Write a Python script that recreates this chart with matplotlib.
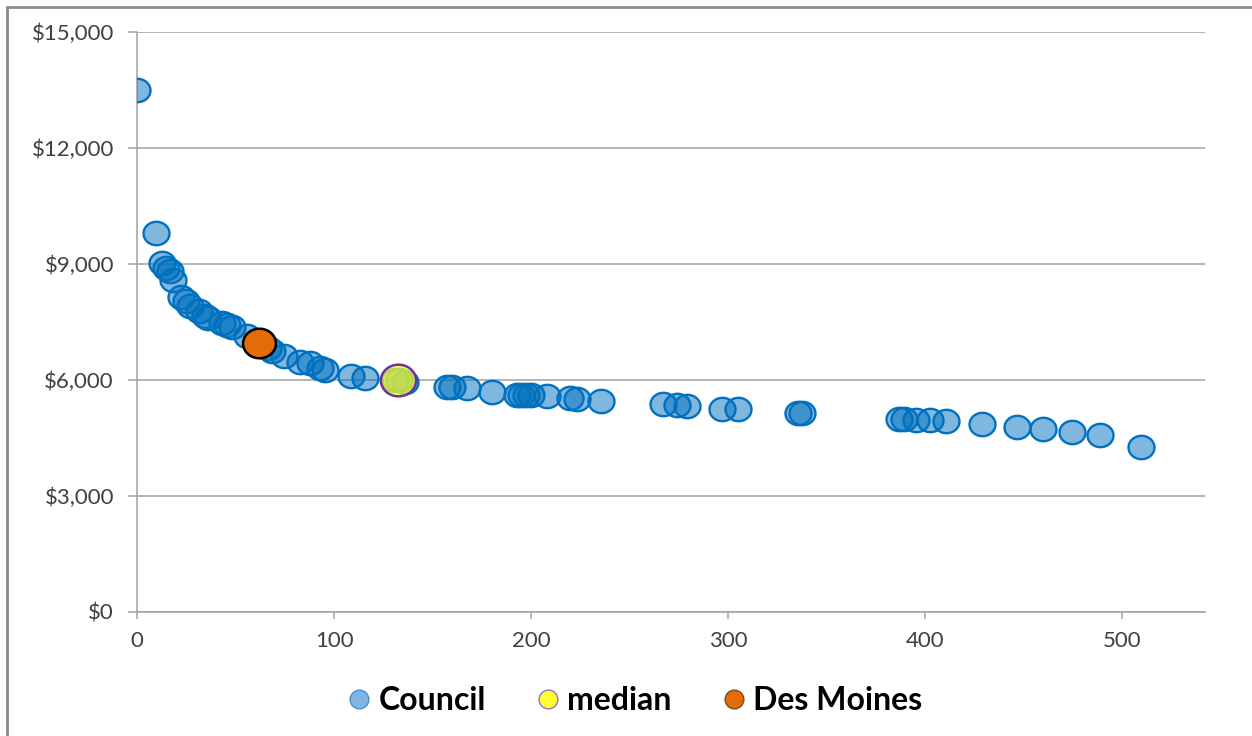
import numpy as np
import matplotlib.pyplot as plt
from matplotlib.patches import Rectangle
from matplotlib.path import Path
from matplotlib.ticker import FuncFormatter
from matplotlib.lines import Line2D

# cost per unit vs. size, Council members
council_x = [0, 9.6, 12.7, 14.7, 16.8, 18.3, 22.3, 24.9, 26.9, 31.5, 34.5, 36,
             43.1, 45.7, 48.2, 55.8, 66.5, 68.5, 74.6, 82.7, 87.8, 92.9, 95.4,
             108.6, 115.7, 131, 133, 136, 157.4, 159.9, 167.5, 180.2, 192.9,
             194.9, 197.5, 200, 208.1, 219.8, 223.4, 235.5, 267, 274, 279, 297,
             305, 335.5, 337.6, 386.8, 389.3, 395.4, 402.5, 410.7, 428.9, 446.7,
             459.9, 474.6, 488.8, 509.6]
council_y = [13500, 9800, 9025, 8896, 8818, 8585, 8146, 8042, 7913, 7784, 7655,
             7603, 7473, 7422, 7370, 7137, 6827, 6750, 6620, 6465, 6439, 6310,
             6258, 6103, 6051, 6010, 6000, 5960, 5818, 5818, 5793, 5689, 5612,
             5612, 5612, 5612, 5586, 5534, 5508, 5456, 5379, 5353, 5327, 5250,
             5250, 5146, 5146, 4991, 4991, 4965, 4965, 4939, 4862, 4784, 4732,
             4655, 4577, 4267]
median_x, median_y = [132.5], [6000]
dsm_x, dsm_y = [62], [6950]

plt.rcParams['font.family'] = ['Lato', 'DejaVu Sans']

# slightly flattened circle marker
t = np.linspace(0, 2 * np.pi, 73)
oval = Path(np.column_stack([np.cos(t), 0.9 * np.sin(t)]), closed=True)

fig = plt.figure(figsize=(12.52, 7.36), dpi=100)
ax = fig.add_axes([0.1094, 0.1685, 0.8531, 0.788])

blue = '#0070C0'
ax.scatter(council_x, council_y, s=350, marker=oval,
           facecolor=(0, 0.44, 0.75, 0.5), edgecolor=blue, linewidth=1.7,
           zorder=3)
ax.scatter(median_x, median_y, s=640, marker=oval,
           facecolor=(1, 1, 0.15, 0.72), edgecolor='#7030A0', linewidth=1.8,
           zorder=4)
ax.scatter(dsm_x, dsm_y, s=560, marker=oval, facecolor='#E36C09',
           edgecolor='black', linewidth=1.8, zorder=5)

ax.set_xlim(0, 542)
ax.set_ylim(0, 15000)
ax.set_xticks([0, 100, 200, 300, 400, 500])
ax.set_yticks([0, 3000, 6000, 9000, 12000, 15000])
ax.yaxis.set_major_formatter(FuncFormatter(lambda v, p: '${:,.0f}'.format(v)))
ax.grid(axis='y', color='#A0A0A0', linewidth=1.1)
ax.set_axisbelow(True)
for s in ['top', 'right']:
    ax.spines[s].set_visible(False)
for s in ['left', 'bottom']:
    ax.spines[s].set_color('#A0A0A0')
    ax.spines[s].set_linewidth(1.1)
ax.tick_params(axis='both', colors='#A0A0A0', labelcolor='#404040',
               labelsize=16, width=1.1)
ax.tick_params(axis='y', length=6.5, pad=10)
ax.tick_params(axis='x', length=5, pad=9)

handles = [
    Line2D([], [], marker='o', linestyle='none', markersize=13.5,
           markerfacecolor='#7FB5E0', markeredgecolor='#4A90D0', markeredgewidth=1),
    Line2D([], [], marker='o', linestyle='none', markersize=13.5,
           markerfacecolor='#FFFF33', markeredgecolor='#9A70C0', markeredgewidth=1),
    Line2D([], [], marker='o', linestyle='none', markersize=13.5,
           markerfacecolor='#E36C09', markeredgecolor='#7A4A20', markeredgewidth=1),
]
fig.legend(handles, ['Council', 'median', 'Des Moines'], loc='center',
           bbox_to_anchor=(0.506, 0.048), ncol=3, frameon=False,
           prop={'weight': 'bold', 'size': 23}, handletextpad=0.15,
           columnspacing=1.5, handlelength=0.9)

# outer chart border
fig.patches.append(Rectangle((7 / 1252, -0.1), 1.2, 1.1 - 7 / 736,
                             transform=fig.transFigure, fill=False,
                             edgecolor='#8A8A8A', linewidth=2))

fig.savefig('out.png', dpi=100)
